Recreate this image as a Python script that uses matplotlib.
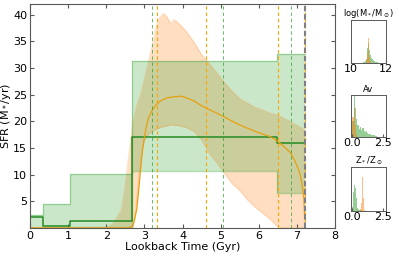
import matplotlib
matplotlib.use('Agg')
import matplotlib.pyplot as plt
import numpy as np

plt.rcParams['lines.scale_dashes'] = False

# non-parametric SFH (green bins)
bin_edges = [0, 0.33, 1.05, 2.68, 6.48, 7.2]
sfr_lo = [0.05, 0.05, 0.1, 10.6, 6.5]
sfr_med = [2.1, 0.3, 1.3, 17.0, 15.9]
sfr_hi = [2.5, 4.4, 10.1, 31.2, 32.6]

# parametric SFH (orange curves)
t_hi = [0, 2.0, 2.2, 2.4, 2.5, 2.6, 2.7, 2.8, 2.9, 3.0, 3.1, 3.2, 3.3, 3.4, 3.5, 3.6, 3.68,
        3.77, 3.85, 3.95, 4.1, 4.3, 4.5, 4.7, 4.9, 5.1, 5.3, 5.5, 5.7, 5.9, 6.1, 6.3, 6.5,
        6.7, 6.9, 7.1, 7.2]
sfr_p84 = [0, 0, 1, 3.5, 8, 14, 20, 23, 25, 28, 31, 34, 37.5, 39.5, 40.2, 39.5, 38.3,
           39, 38.7, 38, 36.8, 34.8, 32.5, 30.8, 29, 27.2, 25.6, 24.2, 23.4, 22.6, 22.1, 21.5, 21.1,
           20.4, 19.6, 18.8, 18.3]
t_lo = [0, 2.7, 2.75, 2.8, 2.85, 2.9, 2.95, 3.0, 3.1, 3.3, 3.5, 3.7, 3.9, 4.1, 4.3, 4.5,
        4.7, 4.9, 5.1, 5.3, 5.5, 5.7, 5.9, 6.1, 6.3, 6.45, 6.6, 7.2]
sfr_p16 = [0, 0, 2, 5, 9, 12.5, 15, 16.5, 17.5, 18.5, 19, 19.3, 19.2, 18.8, 18.1, 16.5,
           14, 12.2, 10.2, 8.3, 7, 5.3, 3.9, 2.8, 1.6, 0.5, 0, 0]
t_med = [0, 2.6, 2.65, 2.7, 2.75, 2.8, 2.85, 2.9, 2.95, 3.0, 3.05, 3.1, 3.2, 3.3, 3.4, 3.5,
         3.6, 3.8, 3.95, 4.1, 4.3, 4.5, 4.7, 4.9, 5.1, 5.3, 5.5, 5.7, 5.9, 6.1, 6.3, 6.48,
         6.6, 6.7, 6.83, 6.95, 7.0, 7.05, 7.09, 7.13, 7.16, 7.18, 7.2]
sfr_p50 = [0, 0, 0.2, 0.5, 1.8, 3.5, 7, 11, 14.5, 17, 19, 20.5, 22, 23, 23.7, 24.1,
           24.4, 24.6, 24.7, 24.4, 23.8, 22.9, 22.2, 21.5, 20.8, 20, 19.3, 18.7, 18.1, 17.6, 17.1, 16.3,
           15.6, 15, 14.1, 12.5, 11.6, 10.8, 9.7, 8.3, 6.6, 5.5, 2]

# vertical markers
orange_marks = [3.32, 4.61, 6.49, 7.2]
green_marks = [3.21, 5.07, 6.84]
t_universe = 7.21

# posterior histograms
mass_edges = np.arange(10.70, 11.66, 0.05)
mass_green = [2, 3, 5, 10, 35, 60, 48, 30, 18, 12, 9, 7, 5, 4, 3, 2, 2, 1, 1]
mass_orange_edges = np.arange(10.85, 11.16, 0.05)
mass_orange = [6, 25, 100, 60, 15, 4]

av_edges = np.arange(0.0, 2.01, 0.1)
av_green = [40, 100, 70, 45, 30, 20, 25, 18, 22, 15, 12, 15, 10, 8, 8, 6, 5, 4, 3, 2]
av_orange_edges = np.arange(0.0, 0.41, 0.1)
av_orange = [50, 72, 30, 8]

z_edges = np.arange(0.0, 1.51, 0.05)
z_green = [10, 45, 75, 60, 40, 55, 30, 15, 8, 5, 4, 3, 3, 2, 2, 2, 1, 1, 1, 1,
           1, 1, 1, 1, 1, 0, 1, 0, 0, 1]
z_orange_edges = np.arange(0.65, 1.01, 0.05)
z_orange = [5, 20, 100, 80, 30, 8, 2]

green = 'tab:green'
orange = 'orange'
spine_col = '0.35'

fig = plt.figure(figsize=(3.99, 2.59), dpi=100)
ax = fig.add_axes([0.075, 0.12, 0.765, 0.865])

# orange 16-84 band, both edges on one time grid
t_band = sorted(set(t_hi) | set(t_lo))
band_hi = np.interp(t_band, t_hi, sfr_p84)
band_lo = np.interp(t_band, t_lo, sfr_p16)
ax.fill_between(t_band, band_lo, band_hi, color='tab:orange', alpha=0.25, lw=0)
ax.plot(t_hi, sfr_p84, color='tab:orange', alpha=0.2, lw=1)
ax.plot(t_lo, sfr_p16, color='tab:orange', alpha=0.2, lw=1)

lo_s = sfr_lo + [sfr_lo[-1]]
hi_s = sfr_hi + [sfr_hi[-1]]
med_s = sfr_med + [sfr_med[-1]]
ax.fill_between(bin_edges, lo_s, hi_s, step='post', color=green, alpha=0.25, lw=0)
ax.step(bin_edges, hi_s, where='post', color=green, alpha=0.35, lw=1)
ax.step(bin_edges, lo_s, where='post', color=green, alpha=0.35, lw=1)
ax.step(bin_edges, med_s, where='post', color='forestgreen', lw=1.1)
ax.plot(t_med, sfr_p50, color='#e8a010', lw=0.9)

for t in orange_marks:
    ax.axvline(t, color=orange, ls=(0, (2.5, 2)), lw=0.8)
for t in green_marks:
    ax.axvline(t, color=green, ls=(0, (2.5, 2)), lw=0.7, alpha=0.7)
ax.axvline(t_universe, color='gray', ls=(0, (4, 2)), lw=1.5)

ax.set_xlim(0, 8)
ax.set_ylim(0, 42)
ax.set_xticks(range(0, 9))
ax.set_yticks(range(5, 41, 5))
ax.tick_params(direction='in', top=True, right=True, labelsize=8, length=3, color=spine_col, pad=2)
ax.set_xlabel('Lookback Time (Gyr)', fontsize=8, labelpad=1)
ax.set_ylabel('SFR (M$_*$/yr)', fontsize=8)
ax.yaxis.set_label_coords(-0.056, 0.5)
for s in ax.spines.values():
    s.set_color(spine_col)
    s.set_linewidth(0.8)

insets = [
    ([0.88, 0.757, 0.087, 0.166], mass_edges, mass_green, mass_orange_edges, mass_orange,
     (10, 12), [10, 12], ['10', '12'], r'log(M$_*$/M$_\odot$)'),
    ([0.88, 0.471, 0.087, 0.162], av_edges, av_green, av_orange_edges, av_orange,
     (-0.1, 2.7), [0, 2.5], ['0.0', '2.5'], 'Av'),
    ([0.88, 0.185, 0.087, 0.170], z_edges, z_green, z_orange_edges, z_orange,
     (-0.1, 2.7), [0, 2.5], ['0.0', '2.5'], r'Z$_*$/Z$_\odot$'),
]
for rect, ge, gc, oe, oc, xl, xt, xtl, title in insets:
    a = fig.add_axes(rect)
    a.stairs(gc, ge, fill=True, color=green, alpha=0.5, lw=0)
    a.stairs(oc, oe, fill=True, color='tab:orange', alpha=0.5, lw=0)
    a.set_xlim(*xl)
    a.set_ylim(0, 103)
    a.set_xticks(xt)
    a.set_xticklabels(xtl)
    a.set_yticks([])
    a.tick_params(direction='in', labelsize=8, length=2, pad=1, color=spine_col)
    a.set_title(title, fontsize=6, pad=2)
    for s in a.spines.values():
        s.set_color(spine_col)
        s.set_linewidth(0.7)

fig.savefig('out.png', dpi=100)
